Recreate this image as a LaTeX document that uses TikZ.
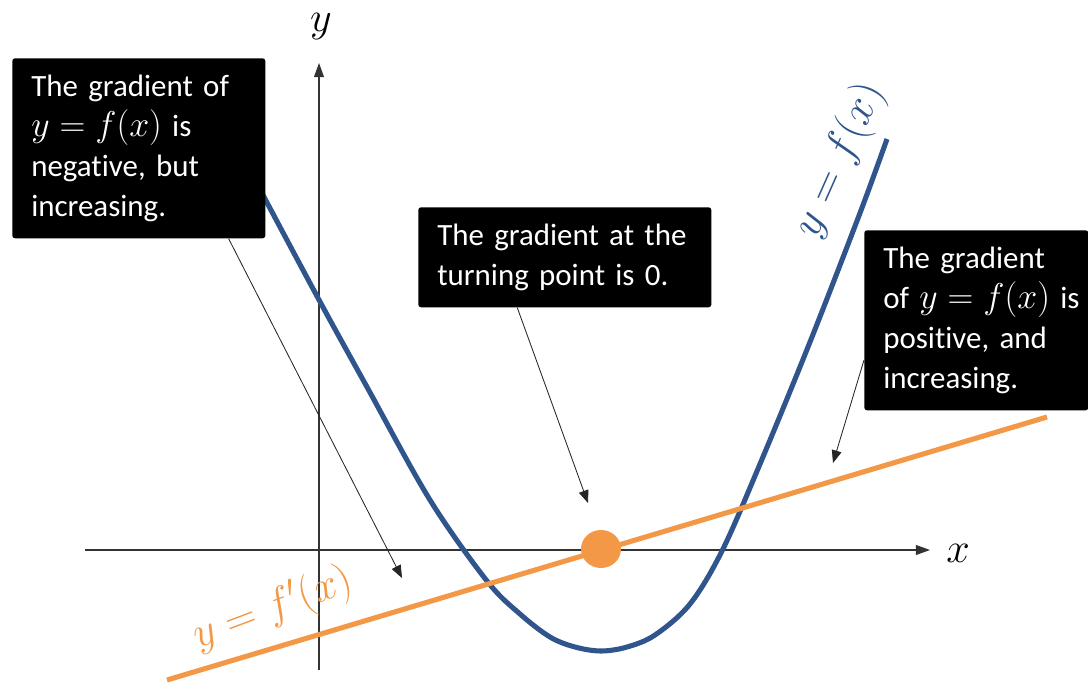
\RequirePackage{fix-cm}
\documentclass[tikz,border=0pt]{standalone}
\usepackage{amsmath,amssymb}
\usepackage{fontspec}
\setmainfont{Carlito}[Ligatures=CommonOff]
\usetikzlibrary{arrows.meta,calc,shapes.geometric}
\definecolor{curveblue}{RGB}{47,85,140}
\definecolor{slopeorange}{RGB}{243,152,70}
\newcommand{\boxfx}{{\fontsize{25.5}{28.5}\selectfont$y = f(x)$}}

\begin{document}
\begin{tikzpicture}[x=0.025cm, y=-0.025cm,
	callout/.style={fill=black, text=white, rounded corners=2pt, anchor=north west, align=left, inner xsep=0.475cm, inner ysep=0pt, font=\fontsize{22}{28.5}\selectfont},
	axis/.style={black!80, line width=0.9pt, -{Triangle[length=10pt, width=7pt]}},
	pointer/.style={black!85, line width=0.6pt, -{Triangle[length=9pt, width=7pt]}},
	axislabel/.style={font=\fontsize{30}{32}\selectfont, inner sep=0pt}]
	\useasboundingbox (0,0) rectangle (1088,683);
	\fill[white] (0,0) rectangle (1088,683);
	\coordinate (xtail) at (85,550);
	\coordinate (xtip) at (930,550);
	\coordinate (ytail) at (319,670);
	\coordinate (ytip) at (319,63);
	\draw[axis] (xtail) -- (xtip);
	\draw[axis] (ytail) -- (ytip);
	\node[axislabel] (xlab) at (958,553) {$x$};
	\node[axislabel] (ylab) at (321,27) {$y$};
	\draw[curveblue, line width=3.6pt] plot[smooth, tension=0.55] coordinates {(255,180) (318,298) (367,387) (430,500) (487,581) (520,614) (550,637) (575,647) (601,651) (627,647) (655,635) (690,604) (722,551) (760,464) (810,342) (860,213) (887,139)};
	\coordinate (oleft) at (167,680);
	\coordinate (oright) at (1047,417);
	\draw[slopeorange, line width=3.6pt] (oleft) -- (oright);
	\node[fill=slopeorange, ellipse, minimum width=1cm, minimum height=0.95cm, inner sep=0pt] (tp) at (601,549) {};
	\node[font=\fontsize{32}{34}\selectfont, text=curveblue, rotate=66] (flab) at (840,160) {$y = f(x)$};
	\node[font=\fontsize{31}{32}\selectfont, text=slopeorange, rotate=20.6] (dlab) at (273,609) {$y = f'(x)$};
	\node[callout, minimum width=6.325cm, minimum height=4.5cm, text width=5.375cm] (lbox) at (12,58) {The gradient of\\ \boxfx{} is\\ negative, but\\ increasing.};
	\node[callout, minimum width=7.325cm, minimum height=2.5cm, text width=6.375cm] (mbox) at (418,207) {The gradient at the\\ turning point is 0.};
	\node[callout, minimum width=5.6cm, minimum height=4.5cm, text width=4.65cm] (rbox) at (864,230) {The gradient\\ \mbox{of \boxfx{} is}\\ positive, and\\ increasing.};
	\coordinate (ltip) at (402,578);
	\coordinate (mtip) at (588,503);
	\coordinate (rtip) at (833,463);
	\draw[pointer] ($(lbox.south west)!0.854!(lbox.south east)$) -- (ltip);
	\draw[pointer] ($(mbox.south west)!0.338!(mbox.south east)$) -- (mtip);
	\draw[pointer] ($(rbox.north west)!0.72!(rbox.south west)$) -- (rtip);
\end{tikzpicture}
\end{document}
